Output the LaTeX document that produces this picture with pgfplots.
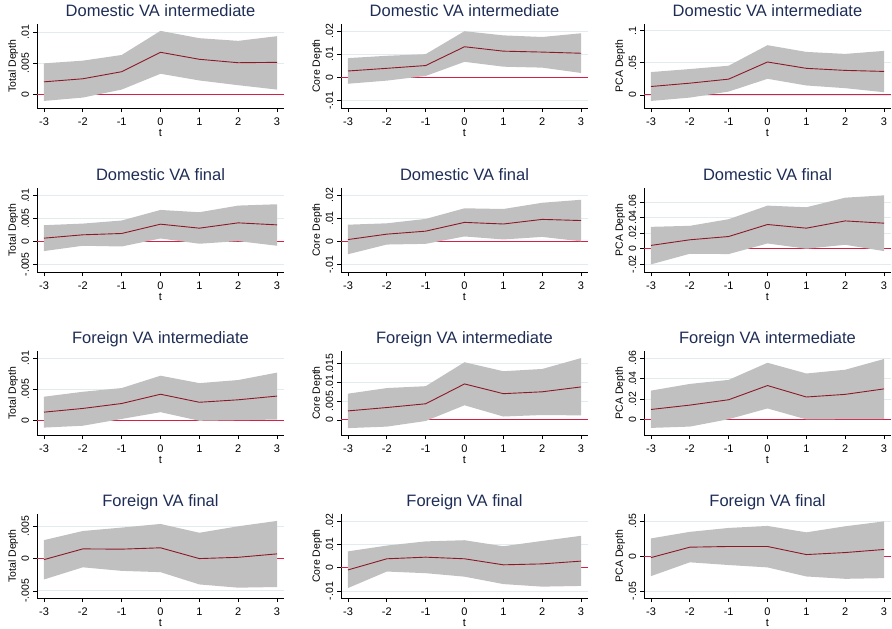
\documentclass[border=0pt]{standalone}
\usepackage{fontspec}
\setmainfont{Liberation Sans}
\usepackage{pgfplots}
\pgfplotsset{compat=1.18}
\definecolor{titlec}{RGB}{30,45,85}
\definecolor{bandc}{RGB}{192,192,192}
\definecolor{meanc}{RGB}{140,25,40}
\definecolor{zeroc}{RGB}{215,30,70}
\definecolor{gridc}{RGB}{226,236,238}
\pgfplotsset{panel/.style={
  width=247pt, height=84pt, scale only axis, anchor=south west,
  xmin=-3.18, xmax=3.18,
  xtick={-3,-2,-1,0,1,2,3}, xticklabels={-3,-2,-1,0,1,2,3},
  scaled y ticks=false, scaled x ticks=false,
  axis x line*=bottom, axis y line*=left,
  axis line style={-, black, line width=0.7pt},
  tick align=outside, major tick length=4pt,
  tick style={black, line width=0.7pt},
  ymajorgrids, major grid style={gridc, line width=0.8pt},
  extra y ticks={0}, extra y tick labels={},
  extra y tick style={major tick length=0pt, grid=major, major grid style={zeroc, line width=1pt}},
  no markers,
  xticklabel style={font=\fontsize{11}{12}\selectfont, anchor=base},
  xticklabel shift=13pt,
  yticklabel style={font=\fontsize{10.5}{12}\selectfont, rotate=90, anchor=base},
  yticklabel shift=4pt,
  xlabel={t},
  xlabel style={font=\fontsize{11}{12}\selectfont, at={(axis description cs:0.5,0)}, anchor=base, yshift=-28pt},
  ylabel style={font=\fontsize{10.5}{12}\selectfont, at={(axis description cs:-0.097,0.5)}, anchor=center},
  title style={font=\fontsize{16.5}{18}\selectfont, color=titlec, at={(axis description cs:0.5,1)}, anchor=base, yshift=1.5pt},
}}
\begin{document}
\begin{tikzpicture}
\useasboundingbox (0pt,0pt) rectangle (892pt,-629pt);
% ---------------- Row 1 ----------------
\begin{axis}[panel, at={(37pt,-108pt)}, title={Domestic VA intermediate}, ylabel={Total Depth},
  ymin=-0.00215, ymax=0.0113, ytick={0,0.005,0.01}, yticklabels={0,.005,.01}]
\addplot[fill=bandc, draw=none] coordinates {(-3,0.0050) (-2,0.00543) (-1,0.00634) (0,0.0102) (1,0.00903) (2,0.0086) (3,0.00935)
 (3,0.0008) (2,0.0015) (1,0.00226) (0,0.00333) (-1,0.0008) (-2,-0.00048) (-3,-0.00102)} -- cycle;
\addplot[meanc, line width=0.9pt] coordinates {(-3,0.00204) (-2,0.00253) (-1,0.00366) (0,0.00677) (1,0.00565) (2,0.0051) (3,0.00516)};
\end{axis}
\begin{axis}[panel, at={(341pt,-108pt)}, title={Domestic VA intermediate}, ylabel={Core Depth},
  ymin=-0.0132, ymax=0.023, ytick={-0.01,0,0.01,0.02}, yticklabels={-.01,0,.01,.02}]
\addplot[fill=bandc, draw=none] coordinates {(-3,0.0083) (-2,0.0093) (-1,0.0100) (0,0.0199) (1,0.0181) (2,0.0174) (3,0.0190)
 (3,0.0019) (2,0.0042) (1,0.0046) (0,0.0067) (-1,0.0006) (-2,-0.0014) (-3,-0.00275)} -- cycle;
\addplot[meanc, line width=0.9pt] coordinates {(-3,0.00275) (-2,0.0039) (-1,0.0051) (0,0.0132) (1,0.0113) (2,0.0109) (3,0.0104)};
\end{axis}
\begin{axis}[panel, at={(644pt,-108pt)}, title={Domestic VA intermediate}, ylabel={PCA Depth},
  ymin=-0.0204, ymax=0.1105, ytick={0,0.05,0.1}, yticklabels={0,.05,.1}]
\addplot[fill=bandc, draw=none] coordinates {(-3,0.0356) (-2,0.0403) (-1,0.0455) (0,0.0775) (1,0.0670) (2,0.0639) (3,0.0686)
 (3,0.0042) (2,0.0105) (1,0.0147) (0,0.0251) (-1,0.0052) (-2,-0.0042) (-3,-0.0094)} -- cycle;
\addplot[meanc, line width=0.9pt] coordinates {(-3,0.0131) (-2,0.0183) (-1,0.0246) (0,0.0513) (1,0.0414) (2,0.0382) (3,0.0366)};
\end{axis}
% ---------------- Row 2 ----------------
\begin{axis}[panel, at={(37pt,-272pt)}, title={Domestic VA final}, ylabel={Total Depth},
  ymin=-0.00667, ymax=0.01167, ytick={-0.005,0,0.005,0.01}, yticklabels={-.005,0,.005,.01}]
\addplot[fill=bandc, draw=none] coordinates {(-3,0.00355) (-2,0.0039) (-1,0.00457) (0,0.00688) (1,0.00638) (2,0.00783) (3,0.00812)
 (3,-0.00094) (2,0.00007) (1,-0.0005) (0,0.00065) (-1,-0.0011) (-2,-0.00094) (-3,-0.0021)} -- cycle;
\addplot[meanc, line width=0.9pt] coordinates {(-3,0.00072) (-2,0.00145) (-1,0.00174) (0,0.00377) (1,0.0029) (2,0.00406) (3,0.00362)};
\end{axis}
\begin{axis}[panel, at={(341pt,-272pt)}, title={Domestic VA final}, ylabel={Core Depth},
  ymin=-0.0132, ymax=0.0232, ytick={-0.01,0,0.01,0.02}, yticklabels={-.01,0,.01,.02}]
\addplot[fill=bandc, draw=none] coordinates {(-3,0.0073) (-2,0.0079) (-1,0.0098) (0,0.0144) (1,0.0141) (2,0.0168) (3,0.0181)
 (3,0.0001) (2,0.0020) (1,0.0009) (0,0.0022) (-1,-0.0010) (-2,-0.0013) (-3,-0.0055)} -- cycle;
\addplot[meanc, line width=0.9pt] coordinates {(-3,0.00086) (-2,0.0032) (-1,0.0045) (0,0.0083) (1,0.0076) (2,0.0096) (3,0.0091)};
\end{axis}
\begin{axis}[panel, at={(644pt,-272pt)}, title={Domestic VA final}, ylabel={PCA Depth},
  ymin=-0.0298, ymax=0.0779, ytick={-0.02,0,0.02,0.04,0.06}, yticklabels={-.02,0,.02,.04,.06}]
\addplot[fill=bandc, draw=none] coordinates {(-3,0.0281) (-2,0.0294) (-1,0.0379) (0,0.0553) (1,0.0532) (2,0.0655) (3,0.0685)
 (3,-0.0030) (2,0.0051) (1,0.0000) (0,0.0068) (-1,-0.0068) (-2,-0.0064) (-3,-0.0200)} -- cycle;
\addplot[meanc, line width=0.9pt] coordinates {(-3,0.0043) (-2,0.0115) (-1,0.0157) (0,0.0311) (1,0.0264) (2,0.0357) (3,0.0328)};
\end{axis}
% ---------------- Row 3 ----------------
\begin{axis}[panel, at={(37pt,-435pt)}, title={Foreign VA intermediate}, ylabel={Total Depth},
  ymin=-0.0024, ymax=0.0112, ytick={0,0.005,0.01}, yticklabels={0,.005,.01}]
\addplot[fill=bandc, draw=none] coordinates {(-3,0.0038) (-2,0.0046) (-1,0.0052) (0,0.0072) (1,0.0060) (2,0.0065) (3,0.0077)
 (3,0.0001) (2,0.0000) (1,-0.0001) (0,0.0013) (-1,0.0002) (-2,-0.0009) (-3,-0.0012)} -- cycle;
\addplot[meanc, line width=0.9pt] coordinates {(-3,0.0013) (-2,0.0019) (-1,0.0027) (0,0.0042) (1,0.0029) (2,0.0033) (3,0.0039)};
\end{axis}
\begin{axis}[panel, at={(341pt,-435pt)}, title={Foreign VA intermediate}, ylabel={Core Depth},
  ymin=-0.00404, ymax=0.0184, ytick={0,0.005,0.01,0.015}, yticklabels={0,.005,.01,.015}]
\addplot[fill=bandc, draw=none] coordinates {(-3,0.0070) (-2,0.0085) (-1,0.0090) (0,0.0154) (1,0.0130) (2,0.0136) (3,0.0165)
 (3,0.0012) (2,0.0013) (1,0.0009) (0,0.0039) (-1,-0.0003) (-2,-0.0018) (-3,-0.0022)} -- cycle;
\addplot[meanc, line width=0.9pt] coordinates {(-3,0.0024) (-2,0.0033) (-1,0.0043) (0,0.0096) (1,0.0070) (2,0.0075) (3,0.0088)};
\end{axis}
\begin{axis}[panel, at={(644pt,-435pt)}, title={Foreign VA intermediate}, ylabel={PCA Depth},
  ymin=-0.0156, ymax=0.0673, ytick={0,0.02,0.04,0.06}, yticklabels={0,.02,.04,.06}]
\addplot[fill=bandc, draw=none] coordinates {(-3,0.0282) (-2,0.0348) (-1,0.0388) (0,0.0557) (1,0.0451) (2,0.0488) (3,0.0594)
 (3,0.0002) (2,0.0000) (1,-0.0002) (0,0.0106) (-1,0.0000) (-2,-0.0073) (-3,-0.0086)} -- cycle;
\addplot[meanc, line width=0.9pt] coordinates {(-3,0.0096) (-2,0.0139) (-1,0.0192) (0,0.0332) (1,0.0219) (2,0.0245) (3,0.0299)};
\end{axis}
% ---------------- Row 4 ----------------
\begin{axis}[panel, at={(37pt,-598pt)}, title={Foreign VA final}, ylabel={Total Depth},
  ymin=-0.0061, ymax=0.0069, ytick={-0.005,0,0.005}, yticklabels={-.005,0,.005}]
\addplot[fill=bandc, draw=none] coordinates {(-3,0.00286) (-2,0.00427) (-1,0.0048) (0,0.00536) (1,0.0040) (2,0.0050) (3,0.00583)
 (3,-0.0044) (2,-0.0045) (1,-0.0040) (0,-0.0021) (-1,-0.0019) (-2,-0.00135) (-3,-0.00323)} -- cycle;
\addplot[meanc, line width=0.9pt] coordinates {(-3,-0.00016) (-2,0.0015) (-1,0.00146) (0,0.00167) (1,0.0000) (2,0.0002) (3,0.00073)};
\end{axis}
\begin{axis}[panel, at={(341pt,-598pt)}, title={Foreign VA final}, ylabel={Core Depth},
  ymin=-0.013, ymax=0.0232, ytick={-0.01,0,0.01,0.02}, yticklabels={-.01,0,.01,.02}]
\addplot[fill=bandc, draw=none] coordinates {(-3,0.0071) (-2,0.0096) (-1,0.0114) (0,0.0119) (1,0.0093) (2,0.0116) (3,0.0138)
 (3,-0.0078) (2,-0.0081) (1,-0.0070) (0,-0.0038) (-1,-0.0023) (-2,-0.0016) (-3,-0.0087)} -- cycle;
\addplot[meanc, line width=0.9pt] coordinates {(-3,-0.0009) (-2,0.0039) (-1,0.0046) (0,0.0039) (1,0.0013) (2,0.0017) (3,0.0029)};
\end{axis}
\begin{axis}[panel, at={(644pt,-598pt)}, title={Foreign VA final}, ylabel={PCA Depth},
  ymin=-0.0599, ymax=0.0606, ytick={-0.05,0,0.05}, yticklabels={-.05,0,.05}]
\addplot[fill=bandc, draw=none] coordinates {(-3,0.0256) (-2,0.0350) (-1,0.0406) (0,0.0435) (1,0.0343) (2,0.0430) (3,0.0500)
 (3,-0.0314) (2,-0.0324) (1,-0.0290) (0,-0.0160) (-1,-0.0126) (-2,-0.0087) (-3,-0.0285)} -- cycle;
\addplot[meanc, line width=0.9pt] coordinates {(-3,-0.0019) (-2,0.0130) (-1,0.0140) (0,0.0140) (1,0.0024) (2,0.0053) (3,0.0097)};
\end{axis}
\end{tikzpicture}
\end{document}
